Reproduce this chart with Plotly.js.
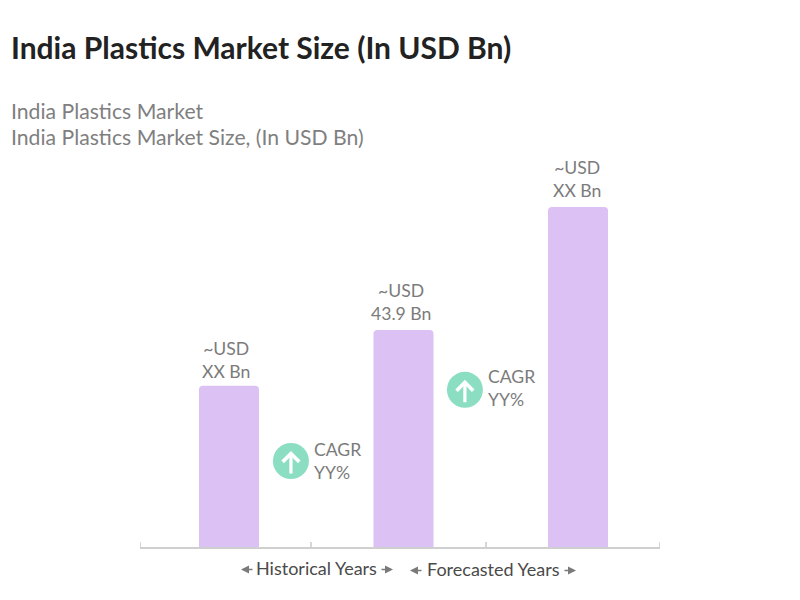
<!DOCTYPE html>
<html>
<head>
<meta charset="utf-8">
<script src="https://cdn.plot.ly/plotly-3.0.1.min.js"></script>
<style>html,body{margin:0;padding:0;background:#fff}#chart{width:800px;height:600px}</style>
</head>
<body>
<div id="chart"></div>
<script>
const chartTitle = "India Plastics Market Size (In USD Bn)";
const subtitleLines = ["India Plastics Market", "India Plastics Market Size, (In USD Bn)"];
const barPositions = [0, 1, 2];
const barValues = [32.6, 43.9, 68.8];
const barLabels = ["~USD<br>XX Bn", "~USD<br>43.9 Bn", "~USD<br>XX Bn"];
const dividerTicks = [-0.51, 0.47, 1.473, 2.47];
const cagrLabels = ["CAGR<br>YY%", "CAGR<br>YY%"];
const cagrX = [0.355, 1.352];
const cagrY = [17.4, 31.8];
const periodLabels = ["Historical Years", "Forecasted Years"];

const FONT = "Lato, sans-serif";
const GREY = "#7b7b7b";

const annotations = [];
subtitleLines.forEach((t, i) => annotations.push({
  xref: "paper", yref: "paper", x: (9 - 140) / 520, y: (547 - (110.5 + i * 26.5)) / 387,
  xanchor: "left", yanchor: "middle", text: t, showarrow: false,
  font: { family: FONT, size: 21.2, color: "#7f7f7f" }
}));
barPositions.forEach((x, i) => annotations.push({
  x: x, y: barValues[i], xref: "x", yref: "y", xanchor: "center", yanchor: "bottom",
  xshift: i === 2 ? -1 : -2.5, yshift: i === 0 ? 2 : 4, text: barLabels[i], showarrow: false, align: "center",
  font: { family: FONT, size: 17.6, color: GREY }
}));
cagrX.forEach((x, i) => {
  annotations.push({
    x: x, y: cagrY[i], xref: "x", yref: "y", axref: "pixel", ayref: "pixel",
    ax: 0, ay: 24, yshift: 10, text: "", showarrow: true,
    arrowhead: 4, arrowsize: 1, arrowwidth: 3.2, arrowcolor: "#ffffff", standoff: 0
  });
  annotations.push({
    x: x, y: cagrY[i], xref: "x", yref: "y", xanchor: "left", yanchor: "middle",
    xshift: 21, yshift: i === 0 ? 0.5 : 2, text: cagrLabels[i], showarrow: false, align: "left",
    font: { family: FONT, size: 17.6, color: GREY }
  });
});
const toPaperX = px => (px - 140) / 520;
const toPaperY = py => (547 - py) / 387;
[[316, 567.5, 241, 393], [493, 568.5, 410, 576]].forEach(([cx, cy, l, r], i) => {
  [[l, 13], [r, -13]].forEach(([hx, ax]) => annotations.push({
    xref: "paper", yref: "paper", x: toPaperX(hx), y: toPaperY(cy + 2),
    ax: ax, ay: 0, axref: "pixel", ayref: "pixel", text: "", showarrow: true,
    arrowhead: 2, arrowsize: 1, arrowwidth: 1.6, arrowcolor: "#7a7a7a", standoff: 0
  }));
  annotations.push({
    xref: "paper", yref: "paper", x: toPaperX(cx), y: toPaperY(cy),
    xanchor: "center", yanchor: "middle", showarrow: false, text: periodLabels[i],
    font: { family: FONT, size: 18, color: "#4a4a4a" }
  });
});

const shapes = dividerTicks.map(x => ({
  type: "line", xref: "x", yref: "y", ysizemode: "pixel", yanchor: 0,
  x0: x, x1: x, y0: -5, y1: 5, line: { color: "#c9c9c9", width: 1.5 }
}));

const traces = [
  {
    type: "bar", x: barPositions, y: barValues, width: 0.344,
    marker: { color: "#dcc1f5", cornerradius: 4, line: { width: 0 } },
    hoverinfo: "skip"
  },
  {
    type: "scatter", mode: "markers", x: cagrX, y: cagrY,
    marker: { size: 36, color: "#8cdec3", line: { width: 0 } }, hoverinfo: "skip"
  }
];

const layout = {
  width: 800, height: 600, showlegend: false,
  paper_bgcolor: "#fff", plot_bgcolor: "#fff",
  margin: { l: 140, r: 140, t: 160, b: 53, pad: 0 },
  title: {
    text: chartTitle, x: 11 / 800, xref: "container", xanchor: "left",
    y: 1 - 48 / 600, yref: "container", yanchor: "middle",
    font: { family: FONT, size: 30, color: "#222222", weight: "bold" }
  },
  xaxis: {
    range: [-0.51, 2.47], tickvals: dividerTicks, ticktext: dividerTicks.map(() => ""),
    ticks: "", showgrid: false, zeroline: false, showline: true,
    linecolor: "#cfcfcf", linewidth: 1.5, fixedrange: true
  },
  yaxis: {
    range: [0, 78.3], visible: false, showgrid: false, zeroline: false, fixedrange: true
  },
  annotations, shapes
};

Plotly.newPlot("chart", traces, layout, { displayModeBar: false, staticPlot: true });
</script>
</body>
</html>
